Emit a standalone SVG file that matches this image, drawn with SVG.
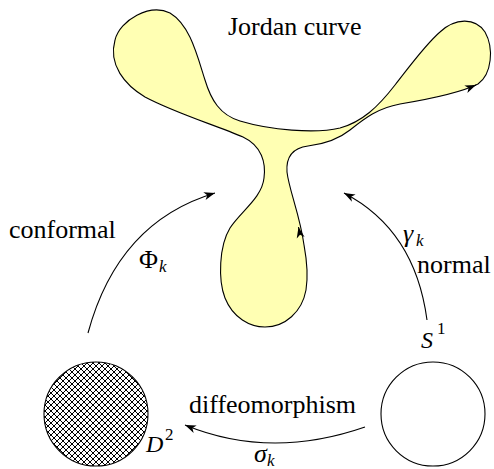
<svg xmlns="http://www.w3.org/2000/svg" width="494" height="469" viewBox="0 0 494 469">
<style>
.t{font-family:"Liberation Serif","Times New Roman",serif;font-size:26px;fill:#000}
.i{font-style:italic}
.s{font-size:17px}
.c{fill:none;stroke:#000;stroke-width:1.1}
</style>
<defs>
<marker id="ah" viewBox="-11 -5 12 10" refX="0" refY="0" markerWidth="12" markerHeight="10" markerUnits="userSpaceOnUse" orient="auto" overflow="visible">
<path d="M0,0 L-11,-4 L-8,0 L-11,4 Z" fill="#000"/>
</marker>
<pattern id="hatch" patternUnits="userSpaceOnUse" width="6" height="6">
<rect width="6" height="6" fill="#fff"/>
<path d="M-1,-1 L7,7 M7,-1 L-1,7 M-1,5 L1,7 M5,-1 L7,1 M-1,1 L1,-1 M5,7 L7,5" stroke="#000" stroke-width="1.1" shape-rendering="crispEdges"/>
</pattern>
</defs>
<g id="jordan">
<path d="M 304 245 C 300 215, 289 190, 287 172 C 286 158, 292 148, 308 146 C 325 144, 340 138, 350 130 C 365 118, 378 108, 400 104 C 430 99, 460 93, 478 84 C 492 74, 494 48, 485 32 C 475 17, 455 18, 440 32 C 425 45, 410 66, 395 85 C 378 107, 362 122, 340 128 C 315 134, 270 130, 240 121 C 220 115, 211 100, 205 80 C 197 55, 190 25, 170 13 C 150 3, 120 20, 115 40 C 108 65, 125 85, 145 97 C 175 113, 215 125, 243 137 C 262 146, 266 163, 264 178 C 262 198, 240 212, 230 228 C 219 246, 218 280, 225 298 C 233 318, 250 327, 265 327 C 285 327, 302 312, 306 290 C 309 272, 306 256, 304 245 Z" fill="#ffffb3" stroke="#000" stroke-width="1.1"/>
<path d="M 299.5 232 L 298.5 227" class="c" marker-end="url(#ah)"/>
<path d="M 470 87.5 L 476 85" class="c" marker-end="url(#ah)"/>
<text class="t" x="228" y="35">Jordan curve</text>
</g>
<g id="disk">
<circle cx="96" cy="414" r="52" fill="url(#hatch)" stroke="#000" stroke-width="1.1"/>
<text class="t i" x="146" y="452" style="font-size:24px">D</text>
<text class="t s" x="165" y="440">2</text>
</g>
<g id="circle">
<circle cx="433" cy="414" r="52" fill="none" stroke="#000" stroke-width="1.1"/>
<text class="t i" x="421" y="348" style="font-size:24px">S</text>
<text class="t s" x="437" y="334">1</text>
</g>
<g id="connectors">
<path d="M 88 333 Q 118 222 215 193" class="c" marker-end="url(#ah)"/>
<path d="M 427 320 Q 415 230 344 193" class="c" marker-end="url(#ah)"/>
<path d="M 365 427 Q 270 460 185 425" class="c" marker-end="url(#ah)"/>
<text class="t" x="9" y="238">conformal</text>
<text class="t" x="139" y="268">Φ</text>
<text class="t s i" x="159" y="272">k</text>
<text class="t" x="417" y="273">normal</text>
<text class="t i" x="403" y="242">γ</text>
<text class="t s i" x="416" y="246">k</text>
<text class="t" x="189" y="413">diffeomorphism</text>
<text class="t i" x="254" y="462">σ</text>
<text class="t s i" x="267" y="466">k</text>
</g>
</svg>
